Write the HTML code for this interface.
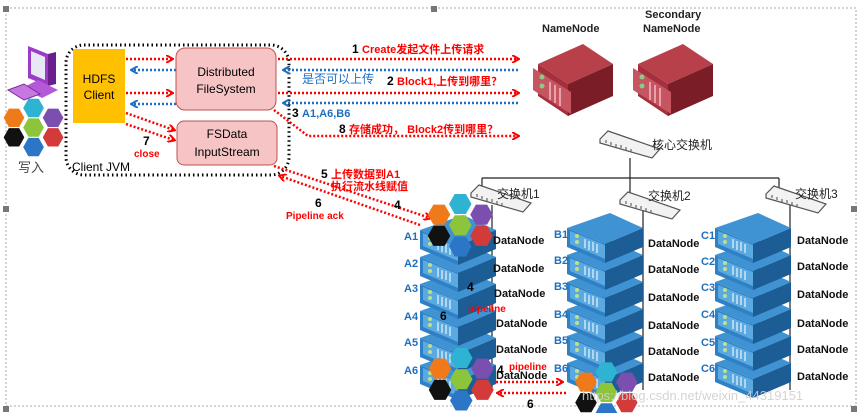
<!DOCTYPE html>
<html><head><meta charset="utf-8"><style>
body{margin:0;width:861px;height:413px;background:#fff;overflow:hidden}
svg{display:block}
text{font-family:"Liberation Sans","Noto Sans CJK SC",sans-serif;font-weight:bold}
text.n{font-weight:normal}
</style></head><body>
<svg width="861" height="413" viewBox="0 0 861 413" xmlns="http://www.w3.org/2000/svg">
<defs>
<marker id="ar" markerWidth="8" markerHeight="8" refX="6" refY="4" orient="auto" markerUnits="userSpaceOnUse"><path d="M0,0 L7,4 L0,8" fill="none" stroke="#f00" stroke-width="2"/></marker>
<marker id="ab" markerWidth="8" markerHeight="8" refX="6" refY="4" orient="auto" markerUnits="userSpaceOnUse"><path d="M0,0 L7,4 L0,8" fill="none" stroke="#1f6fc0" stroke-width="2"/></marker>
<g id="srv">
<polygon points="0,15 43,0 76,15 38,31" fill="#3f93d3"/>
<polygon points="0,15 38,31 38,50 0,34" fill="#2f80c4"/>
<polygon points="38,31 76,15 76,34 38,50" fill="#1c5d96"/>
<polygon points="3,18 38,32 38,46 3,31" fill="#5aa9e0"/>
<circle cx="10" cy="23" r="2" fill="#bfe08a"/><circle cx="10" cy="29" r="2" fill="#bfe08a"/>
<path d="M18,26 v9 M22,28 v9 M26,29 v9 M30,31 v9" stroke="#cfe6f7" stroke-width="1.5"/>
</g>
<g id="rsrv">
<polygon points="0,20 45,0 75,20 30,40" fill="#b8404a"/>
<polygon points="0,20 30,40 30,72 0,52" fill="#a3303c"/>
<polygon points="30,40 75,20 75,52 30,72" fill="#7a1d27"/>
<polygon points="-5,24 33,48 33,70 -5,46" fill="#c55561"/>
<circle cx="4" cy="33" r="2.5" fill="#8c8"/><circle cx="4" cy="42" r="2.5" fill="#8c8"/>
<path d="M12,38 v18 M17,41 v18 M22,44 v18" stroke="#e9a0a8" stroke-width="2"/>
</g>
<g id="sw">
<polygon points="0,8 8,0 60,18 52,27 0,12" fill="#f2f2f2" stroke="#555" stroke-width="1.2"/>
<path d="M6,9 l0,3 M11,11 l0,3 M16,13 l0,3 M21,14 l0,3 M26,16 l0,3 M31,18 l0,3" stroke="#666" stroke-width="1.2"/>
</g>
<polygon id="hx" points="-9,0 -4.5,-8 4.5,-8 9,0 4.5,8 -4.5,8"/>
<g id="hexes">
<use href="#hx" x="17" y="0" fill="#2fb3d3"/>
<use href="#hx" x="0" y="8.5" fill="#f07a1a"/>
<use href="#hx" x="34" y="8.5" fill="#7b4fb0"/>
<use href="#hx" x="17" y="17" fill="#8cc43c"/>
<use href="#hx" x="0" y="25.5" fill="#111"/>
<use href="#hx" x="34" y="25.5" fill="#d33b3b"/>
<use href="#hx" x="17" y="34" fill="#2c76c8"/>
</g>
</defs>
<rect x="6" y="8" width="850" height="398" fill="none" stroke="#aaa" stroke-dasharray="2,2"/>
<rect x="3" y="6" width="6" height="6" fill="#777"/><rect x="3" y="206" width="6" height="6" fill="#777"/><rect x="3" y="406" width="6" height="6" fill="#777"/>
<rect x="431" y="6" width="6" height="6" fill="#777"/><rect x="851" y="206" width="6" height="6" fill="#777"/><rect x="851" y="406" width="6" height="6" fill="#777"/>

<!-- computer -->
<polygon points="28,46 48,54 48,86 28,78" fill="#9b3cc5"/><polygon points="31,51 45,57 45,80 31,74" fill="#e8e8f5"/>
<polygon points="48,54 56,52 56,84 48,86" fill="#6b1f8f"/>
<polygon points="22,88 38,80 58,90 42,98" fill="#b45ad8"/>
<polygon points="8,90 24,84 40,94 24,100" fill="#c678e0" stroke="#7a2aa0"/>
<use href="#hexes" transform="translate(14,108) scale(1.15)"/>
<text class="n" x="18" y="172" font-size="13" fill="#444">写入</text>

<!-- client JVM -->
<rect x="66" y="45" width="223" height="130" rx="18" fill="none" stroke="#000" stroke-width="3" stroke-dasharray="1.5,3"/>
<text class="n" x="72" y="171" font-size="12" fill="#000">Client JVM</text>
<rect x="73" y="49" width="52" height="74" fill="#ffc000"/>
<text class="n" x="99" y="83" font-size="12" text-anchor="middle">HDFS</text>
<text class="n" x="99" y="99" font-size="12" text-anchor="middle">Client</text>
<rect x="176" y="48" width="100" height="62" rx="9" fill="#f6c4c4" stroke="#c0504d"/>
<text class="n" x="226" y="76" font-size="12" text-anchor="middle">Distributed</text>
<text class="n" x="226" y="93" font-size="12" text-anchor="middle">FileSystem</text>
<rect x="177" y="121" width="100" height="44" rx="7" fill="#f6c4c4" stroke="#c0504d"/>
<text class="n" x="227" y="138" font-size="12" text-anchor="middle">FSData</text>
<text class="n" x="227" y="156" font-size="12" text-anchor="middle">InputStream</text>

<g stroke-width="2.5" stroke-dasharray="2,2" fill="none">
<path d="M126,59 H172" stroke="#f00" marker-end="url(#ar)"/>
<path d="M176,70 H132" stroke="#1f6fc0" marker-end="url(#ab)"/>
<path d="M126,93 H172" stroke="#f00" marker-end="url(#ar)"/>
<path d="M176,104 H132" stroke="#1f6fc0" marker-end="url(#ab)"/>
<path d="M126,113 L174,130" stroke="#f00" marker-end="url(#ar)"/>
<path d="M126,124 L174,140" stroke="#f00" marker-end="url(#ar)"/>
<path d="M278,59 H518" stroke="#f00" marker-end="url(#ar)"/>
<path d="M518,70 H284" stroke="#1f6fc0" marker-end="url(#ab)"/>
<path d="M278,93 H518" stroke="#f00" marker-end="url(#ar)"/>
<path d="M518,103 H284" stroke="#1f6fc0" marker-end="url(#ab)"/>
<path d="M274,110 L308,136 H518" stroke="#f00" marker-end="url(#ar)"/>
<path d="M274,166 L430,218" stroke="#f00" marker-end="url(#ar)"/>
<path d="M420,225 L280,176" stroke="#f00" marker-end="url(#ar)"/>
<path d="M464,250 V352" stroke="#f00" marker-end="url(#ar)"/>
<path d="M452,356 V256" stroke="#f00" marker-end="url(#ar)"/>
<path d="M496,382 H562" stroke="#f00" marker-end="url(#ar)"/>
<path d="M566,393 H498" stroke="#f00" marker-end="url(#ar)"/>
</g>
<text x="143" y="145" font-size="12" fill="#000">7</text>
<text x="134" y="157" font-size="10" fill="#f00">close</text>
<text x="352" y="53" font-size="11"><tspan fill="#000" font-size="12">1 </tspan><tspan fill="#f00">Create发起文件上传请求</tspan></text>
<text class="n" x="302" y="83" font-size="12" fill="#1f6fc0">是否可以上传</text>
<text x="387" y="85" font-size="11"><tspan fill="#000" font-size="12">2 </tspan><tspan fill="#f00">Block1,上传到哪里？</tspan></text>
<text x="292" y="117" font-size="11"><tspan fill="#000" font-size="12">3 </tspan><tspan fill="#1f6fc0">A1,A6,B6</tspan></text>
<text x="339" y="133" font-size="11"><tspan fill="#000" font-size="12">8 </tspan><tspan fill="#f00">存储成功， Block2传到哪里？</tspan></text>
<text x="321" y="178" font-size="11"><tspan fill="#000" font-size="12">5 </tspan><tspan fill="#f00">上传数据到A1</tspan></text>
<text x="331" y="190" font-size="11" fill="#f00">执行流水线赋值</text>
<text x="394" y="209" font-size="12" fill="#000">4</text>
<text x="315" y="207" font-size="12" fill="#000">6</text>
<text x="286" y="219" font-size="10" fill="#f00">Pipeline  ack</text>

<!-- namenodes -->
<text x="542" y="32" font-size="11" fill="#222">NameNode</text>
<text x="645" y="18" font-size="11" fill="#222">Secondary</text>
<text x="643" y="32" font-size="11" fill="#222">NameNode</text>
<use href="#rsrv" x="538" y="44"/>
<use href="#rsrv" x="638" y="44"/>

<!-- network lines -->
<g stroke="#222" stroke-width="1.2" fill="none">
<path d="M630,158 V178 M482,178 H779 M482,178 V200 M630,178 V195 M779,178 V195"/>
<path d="M492,205 V390 M643,210 V390 M790,205 V390"/>
</g>
<use href="#sw" x="600" y="131"/>
<text class="n" x="652" y="149" font-size="12" fill="#222">核心交换机</text>
<use href="#sw" x="471" y="185"/>
<use href="#sw" x="620" y="192"/>
<use href="#sw" x="766" y="186"/>
<text class="n" x="497" y="198" font-size="12" fill="#222">交换机1</text>
<text class="n" x="648" y="200" font-size="12" fill="#222">交换机2</text>
<text class="n" x="795" y="198" font-size="12" fill="#222">交换机3</text>

<!-- stacks (bottom first) -->
<use href="#srv" x="420" y="350"/><use href="#srv" x="420" y="323"/><use href="#srv" x="420" y="296"/><use href="#srv" x="420" y="269"/><use href="#srv" x="420" y="242"/><use href="#srv" x="420" y="215"/>
<use href="#srv" x="567" y="348"/><use href="#srv" x="567" y="321"/><use href="#srv" x="567" y="294"/><use href="#srv" x="567" y="267"/><use href="#srv" x="567" y="240"/><use href="#srv" x="567" y="213"/>
<use href="#srv" x="715" y="348"/><use href="#srv" x="715" y="321"/><use href="#srv" x="715" y="294"/><use href="#srv" x="715" y="267"/><use href="#srv" x="715" y="240"/><use href="#srv" x="715" y="213"/>

<use href="#hexes" transform="translate(439,204) scale(1.25)"/>
<use href="#hexes" transform="translate(440,358) scale(1.25)"/>
<use href="#hexes" transform="translate(586,372) scale(1.2)"/>

<g font-size="11" fill="#1f6fc0">
<text x="404" y="240">A1</text><text x="404" y="267">A2</text><text x="404" y="292">A3</text><text x="404" y="320">A4</text><text x="404" y="346">A5</text><text x="404" y="374">A6</text>
<text x="554" y="238">B1</text><text x="554" y="264">B2</text><text x="554" y="290">B3</text><text x="554" y="318">B4</text><text x="554" y="344">B5</text><text x="554" y="372">B6</text>
<text x="701" y="239">C1</text><text x="701" y="265">C2</text><text x="701" y="291">C3</text><text x="701" y="318">C4</text><text x="701" y="346">C5</text><text x="701" y="372">C6</text>
</g>
<g font-size="11" fill="#111">
<text x="493" y="244">DataNode</text><text x="493" y="272">DataNode</text><text x="494" y="297">DataNode</text><text x="496" y="327">DataNode</text><text x="496" y="353">DataNode</text><text x="496" y="379">DataNode</text>
<text x="648" y="247">DataNode</text><text x="648" y="273">DataNode</text><text x="648" y="301">DataNode</text><text x="648" y="329">DataNode</text><text x="648" y="355">DataNode</text><text x="648" y="381">DataNode</text>
<text x="797" y="244">DataNode</text><text x="797" y="270">DataNode</text><text x="797" y="298">DataNode</text><text x="797" y="327">DataNode</text><text x="797" y="353">DataNode</text><text x="797" y="380">DataNode</text>
</g>
<text x="467" y="291" font-size="12" fill="#000">4</text>
<text x="440" y="320" font-size="12" fill="#000">6</text>
<text x="468" y="312" font-size="10" fill="#f00">pipeline</text>
<text x="497" y="374" font-size="12" fill="#000">4</text>
<text x="509" y="370" font-size="10" fill="#f00">pipeline</text>
<text x="527" y="408" font-size="12" fill="#000">6</text>
<text class="n" x="582" y="400" font-size="13" fill="#d0d0d0" opacity="0.9">https://blog.csdn.net/weixin_44319151</text>
</svg>
</body></html>
